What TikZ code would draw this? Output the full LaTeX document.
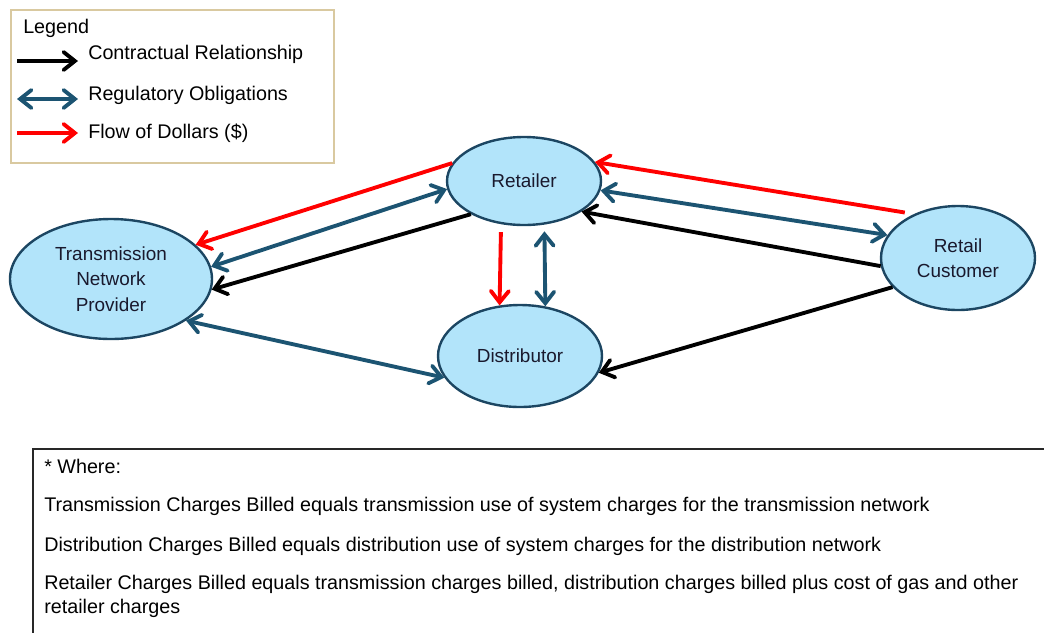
\documentclass[tikz,border=0pt]{standalone}
\usepackage{fontspec}
\setmainfont{Liberation Sans}
\usetikzlibrary{arrows.meta,shapes.geometric}
\definecolor{nodefill}{RGB}{178,228,250}
\definecolor{nodeline}{RGB}{28,70,98}
\definecolor{regteal}{RGB}{28,84,114}
\definecolor{legendtan}{RGB}{217,201,160}
\definecolor{notegray}{RGB}{40,40,40}
\definecolor{inktext}{RGB}{25,25,45}

\begin{document}
\begin{tikzpicture}[x=0.75pt,y=-0.75pt,
  party/.style={ellipse,draw=nodeline,fill=nodefill,line width=1.8pt,inner sep=0pt,
    align=center,text=inktext,font=\fontsize{14.2}{19}\selectfont},
  barb/.tip={Straight Barb[length=8.5pt,width=13.5pt,line cap=round]},
  link/.style={line width=2.9pt},
  contract/.style={link,black,-barb},
  regulate/.style={link,regteal,barb-barb},
  dollars/.style={link,red,-barb},
  label/.style={inner sep=0pt,anchor=west,text=black,font=\fontsize{14.8}{18}\selectfont},
  note/.style={inner sep=0pt,anchor=west,align=left,text=black,font=\fontsize{14.8}{18}\selectfont}]

\useasboundingbox (0,0) rectangle (1044,632);
\clip (0,0) rectangle (1044,632);

% legend
\draw[legendtan,line width=1.9pt,fill=white] (11,10) rectangle (334,163);
\node[label] (legtitle) at (23,28) {Legend};
\coordinate (k1a) at (17,61);  \coordinate (k1b) at (78,61);
\coordinate (k2a) at (17,99);  \coordinate (k2b) at (78,99);
\coordinate (k3a) at (17,133); \coordinate (k3b) at (78,133);
\draw[contract] (k1a) -- (k1b);
\draw[regulate] (k2a) -- (k2b);
\draw[dollars]  (k3a) -- (k3b);
\node[label] (leg1) at (88,54)  {Contractual Relationship};
\node[label] (leg2) at (88,95)  {Regulatory Obligations};
\node[label] (leg3) at (88,133) {Flow of Dollars (\$)};

% parties
\node[party,minimum width=115.5pt,minimum height=66pt] (ret) at (524,181) {Retailer};
\node[party,minimum width=151.5pt,minimum height=90pt] (tnp) at (111,279) {Transmission\\Network\\Provider};
\node[party,minimum width=123pt,minimum height=76.5pt] (dist) at (520,356) {Distributor};
\node[party,minimum width=115.5pt,minimum height=78pt] (cust) at (958,258) {Retail\\Customer};

% retailer and transmission network provider
\draw[dollars]  (ret.166.8) -- (tnp.22.5);
\draw[regulate] (ret.186.3) -- (tnp.7.5);
\draw[contract] (ret.212.6) -- (tnp.-6);

% retailer and distributor
\draw[dollars,shorten <=6pt]  (ret.242.1) -- (dist.112.3);
\draw[regulate,shorten <=5pt] (ret.295.2) -- (dist.63.4);

% transmission network provider and distributor
\draw[regulate] (tnp.-29.2) -- (dist.196.1);

% retail customer links
\draw[dollars,shorten <=7pt] (cust.135.6) -- (ret.15.1);
\draw[regulate] (ret.353.6) -- (cust.162.8);
\draw[contract] (cust.186.6) -- (ret.332.5);
\draw[contract] (cust.204.8) -- (dist.-12);

% notes
\draw[notegray,line width=1.1pt] (33,449) rectangle (1060,650);
\node[note] (n0) at (44,466) {* Where:};
\node[note] (n1) at (44,506) {Transmission Charges Billed equals transmission use of system charges for the transmission network};
\node[note] (n2) at (44,546) {Distribution Charges Billed equals distribution use of system charges for the distribution network};
\node[note] (n3) at (44,596) {Retailer Charges Billed equals transmission charges billed, distribution charges billed plus cost of gas and other\\retailer charges};
\end{tikzpicture}
\end{document}
